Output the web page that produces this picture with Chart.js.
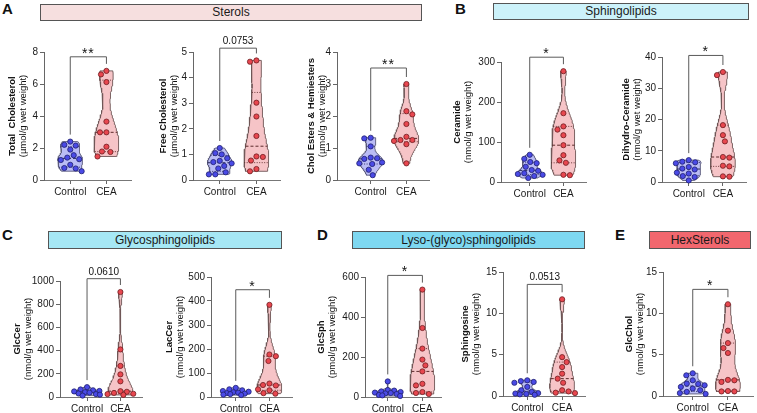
<!DOCTYPE html>
<html>
<head>
<meta charset="utf-8">
<script src="https://cdn.jsdelivr.net/npm/chart.js@4.4.1/dist/chart.umd.min.js"></script>
<style>
  body { margin: 0; background: #fff; width: 757px; height: 413px; overflow: hidden; position: relative;
         font-family: "Liberation Sans", Arial, sans-serif; }
  .hdr { position: absolute; border: 1px solid #555; box-sizing: border-box; text-align: center;
         font-size: 12px; color: #1a1a1a; }
  .lt { position: absolute; font-weight: bold; font-size: 15px; line-height: 15px; color: #111; }
  canvas { position: absolute; }
</style>
</head>
<body>
<div class="lt" style="left:2px;top:1px">A</div>
<div class="lt" style="left:455px;top:1px">B</div>
<div class="lt" style="left:2px;top:227px">C</div>
<div class="lt" style="left:317px;top:227px">D</div>
<div class="lt" style="left:615px;top:227px">E</div>
<div class="hdr" style="left:40px;top:4px;width:382px;height:17px;line-height:15px;background:#f6dfdf">Sterols</div>
<div class="hdr" style="left:493px;top:3px;width:256px;height:17px;line-height:15px;background:#ccf2fa">Sphingolipids</div>
<div class="hdr" style="left:48px;top:231px;width:234px;height:18px;line-height:16px;background:#a6e8f5">Glycosphingolipids</div>
<div class="hdr" style="left:352px;top:231px;width:233px;height:18px;line-height:16px;background:#7ed8f1">Lyso-(glyco)sphingolipids</div>
<div class="hdr" style="left:649px;top:231px;width:102px;height:18px;line-height:16px;background:#f2676e">HexSterols</div>

<script>
const groups = ['Control', 'CEA'];

// Sterols
const totalCholCtrl = [2.4, 2.2, 2.15, 1.9, 1.55, 1.4, 1.3, 1.25, 0.95, 0.75, 0.72, 0.55];
const totalCholCea  = [6.82, 6.6, 6.12, 3.65, 2.98, 2.98, 2.08, 1.78, 1.75, 1.47];
const freeCholCtrl  = [1.25, 1.05, 1.0, 0.85, 0.75, 0.7, 0.65, 0.55, 0.45, 0.3, 0.22, 0.22];
const freeCholCea   = [4.67, 4.62, 3.02, 2.48, 1.72, 0.92, 0.9, 0.76, 0.43, 0.34];
const cholEstCtrl   = [1.32, 1.3, 1.05, 0.7, 0.68, 0.66, 0.55, 0.52, 0.5, 0.32, 0.15];
const cholEstCea    = [3.0, 2.15, 2.05, 1.75, 1.35, 1.25, 1.25, 1.22, 1.12, 0.52];
// Sphingolipids
const ceramideCtrl   = [68, 58, 50, 47, 38, 30, 28, 22, 20, 18, 15, 10];
const ceramideCea    = [277, 172, 139, 131, 117, 92, 67, 54, 48, 18, 17];
const dhCeramideCtrl = [7.0, 6.5, 6.3, 6.0, 4.8, 4.3, 4.0, 3.0, 2.7, 1.9, 1.6, 0.5];
const dhCeramideCea  = [35.2, 34.2, 18.2, 15.0, 13.0, 8.0, 7.8, 5.2, 5.0, 1.8, 1.7];
// Glycosphingolipids
const glcCerCtrl = [85, 65, 58, 52, 48, 42, 38, 30, 25, 20, 12];
const glcCerCea  = [905, 410, 268, 195, 135, 50, 45, 35, 28, 25, 18];
const lacCerCtrl = [38, 32, 28, 25, 22, 20, 18, 16, 14, 12, 10, 8];
const lacCerCea  = [384, 177, 170, 150, 56, 50, 48, 32, 28, 16, 14];
// Lyso-(glyco)sphingolipids
const glcSphCtrl = [78, 35, 32, 28, 25, 22, 20, 18, 15, 10, 8, 5];
const glcSphCea  = [537, 345, 242, 187, 158, 128, 66, 58, 25, 20, 15];
const sphCtrl    = [1.9, 1.8, 1.7, 1.6, 1.1, 0.7, 0.5, 0.35, 0.3, 0.25, 0.2, 0.15];
const sphCea     = [11.7, 4.7, 4.1, 3.5, 2.7, 2.1, 1.6, 0.7, 0.55, 0.4, 0.35];
// HexSterols
const glcCholCtrl = [2.75, 2.5, 1.9, 1.5, 1.45, 1.3, 1.1, 0.9, 0.7, 0.5, 0.35, 0.25];
const glcCholCea  = [11.1, 7.9, 6.4, 5.8, 5.2, 1.95, 1.9, 1.7, 0.6, 0.55, 0.55];

// axis titles, ticks and significance (one entry per panel)
const titleMain = ['Total  Cholesterol', 'Free Cholesterol', 'Chol Esters & Hemiesters', 'Ceramide',
  'Dihydro-Ceramide', 'GlcCer', 'LacCer', 'GlcSph', 'Sphingosine', 'GlcChol'];
const titleUnit = ['(µmol/g wet weight)', '(µmol/g wet weight)', '(µmol/g wet weight)', '(nmol/g wet weight)',
  '(nmol/g wet weight)', '(nmol/g wet weight)', '(nmol/g wet weight)', '(pmol/g wet weight)',
  '(nmol/g wet weight)', '(nmol/g wet weight)'];
const yMaxes = [8, 5, 4, 300, 40, 1000, 500, 600, 15, 15];
const ySteps = [2, 1, 1, 100, 10, 200, 100, 200, 5, 5];
const sigLabels = ['**', '0.0753', '**', '*', '*', '0.0610', '*', '*', '0.0513', '*'];
const sigLevels = [7.7, 5.15, 3.5, 312, 40.5, 1020, 447, 608, 13.5, 12.9];
const seriesCtrl = [totalCholCtrl, freeCholCtrl, cholEstCtrl, ceramideCtrl, dhCeramideCtrl,
  glcCerCtrl, lacCerCtrl, glcSphCtrl, sphCtrl, glcCholCtrl];
const seriesCea = [totalCholCea, freeCholCea, cholEstCea, ceramideCea, dhCeramideCea,
  glcCerCea, lacCerCea, glcSphCea, sphCea, glcCholCea];

// page layout: y-axis x, Control x, CEA x, axis end x, top y, zero y, title offset
const layout = [
  [44, 70.5, 107, 132, 52, 180, 32],
  [193, 220, 257, 281, 52, 180, 30],
  [337, 371, 407, 430, 52, 180, 26],
  [501, 530, 564, 587, 62, 182, 44],
  [662, 689, 723.5, 747, 57, 182, 36],
  [60, 87.3, 121, 143, 281, 397, 43],
  [211, 236, 270, 293, 277, 397, 42],
  [365, 388, 423, 442, 277, 397, 44],
  [503, 527.5, 562.7, 586, 272, 396, 38],
  [663, 693, 728.5, 754, 272, 396, 34]
];

const FONT = '"Liberation Sans", Arial, sans-serif';
const PADL = 56, YW = 30, PADT = 32, XH = 22;
const colors = [
  { fill: '#babcf5', line: '#5b5b7a', dot: '#4a4ae6', dotEdge: '#20206e', med: '#2b2b5c' },
  { fill: '#f6c4c7', line: '#6e5656', dot: '#e8474f', dotEdge: '#6e1e22', med: '#5c2b2b' }
];

function quantile(s, p) {
  const n = s.length, pos = (n + 1) * p;
  if (pos <= 1) return s[0];
  if (pos >= n) return s[n - 1];
  const lo = Math.floor(pos);
  return s[lo - 1] + (pos - lo) * (s[lo] - s[lo - 1]);
}

function density(values) {
  const s = values.slice().sort((a, b) => a - b);
  const n = s.length;
  const mean = s.reduce((a, b) => a + b, 0) / n;
  const sd = Math.sqrt(s.reduce((a, b) => a + (b - mean) ** 2, 0) / (n - 1));
  const iqr = quantile(s, 0.75) - quantile(s, 0.25);
  const h = 0.8 * 0.9 * Math.min(sd, iqr > 0 ? iqr / 1.34 : sd) * Math.pow(n, -0.2);
  return y => s.reduce((a, v) => a + Math.exp(-0.5 * ((y - v) / h) ** 2), 0);
}

// simple beeswarm in pixel space, kept within +-maxOff px of the group centre
function swarm(values, pxPerY, d, maxOff) {
  const placed = [], offs = [];
  const idx = values.map((v, i) => i).sort((a, b) => values[b] - values[a]);
  idx.forEach((i, k) => {
    const py = values[i] * pxPerY;
    const cands = [0];
    for (let st = 0.5; st <= maxOff; st += 0.5) {
      if (k % 2) cands.push(-st, st); else cands.push(st, -st);
    }
    const minDist = cx => placed.reduce((m, q) => Math.min(m, Math.hypot(q.x - cx, q.y - py)), Infinity);
    let best = cands.find(cx => minDist(cx) >= d);
    if (best === undefined) {
      best = cands.reduce((b, cx) => (minDist(cx) > minDist(b) ? cx : b), 0);
    }
    placed.push({ x: best, y: py });
    offs[i] = best;
  });
  return offs;
}

function groupDatasets(values, center, col, unitPx, pxPerY) {
  const s = values.slice().sort((a, b) => a - b);
  const f = density(values);
  const lo = s[0], hi = s[s.length - 1];
  const K = 80, ys = [];
  for (let k = 0; k <= K; k++) ys.push(lo + (hi - lo) * k / K);
  const dMax = Math.max(...ys.map(f));
  const halfW = 12.5 / unitPx;
  const w = y => f(y) / dMax * halfW;

  const outline = ys.map(y => ({ x: center + w(y), y }));
  ys.slice().reverse().forEach(y => outline.push({ x: center - w(y), y }));
  outline.push(outline[0]);

  const sets = [{
    data: outline, showLine: true, fill: 'shape', backgroundColor: col.fill,
    borderColor: col.line, borderWidth: 0.9, pointRadius: 0, tension: 0, order: 3, clip: false
  }];
  [[0.5, [3, 2], 1], [0.25, [1, 1.5], 0.9], [0.75, [1, 1.5], 0.9]].forEach(([p, dash, lw]) => {
    const q = quantile(s, p);
    sets.push({
      data: [{ x: center - w(q), y: q }, { x: center + w(q), y: q }], showLine: true,
      borderColor: col.med, borderWidth: lw, borderDash: dash, pointRadius: 0, order: 2, clip: false
    });
  });
  const offs = swarm(values, pxPerY, 6.5, 13);
  sets.push({
    data: values.map((v, i) => ({ x: center + offs[i] / unitPx, y: v })),
    pointRadius: 2.6, borderWidth: 0.8, backgroundColor: col.dot, borderColor: col.dotEdge,
    order: 1, clip: false
  });
  return sets;
}

function decorPlugin(i, titleOff) {
  return {
    id: 'decor' + i,
    afterDraw(chart) {
      const { ctx, chartArea: a, scales: { x, y } } = chart;
      ctx.save();
      ctx.fillStyle = '#111';
      ctx.textAlign = 'center';
      ctx.textBaseline = 'middle';
      const mid = (a.top + a.bottom) / 2;
      [[titleMain[i], 'bold 9.5px ' + FONT, a.left - titleOff],
       [titleUnit[i], '9.5px ' + FONT, a.left - titleOff + 11]].forEach(([t, font, tx]) => {
        ctx.save();
        ctx.translate(tx, mid);
        ctx.rotate(-Math.PI / 2);
        ctx.font = font;
        ctx.fillText(t, 0, 0);
        ctx.restore();
      });

      // significance bracket
      const x0 = x.getPixelForValue(0), x1 = x.getPixelForValue(1);
      const yl = y.getPixelForValue(sigLevels[i]);
      const l0 = y.getPixelForValue(Math.max(...seriesCtrl[i])) - 7;
      const l1 = Math.max(y.getPixelForValue(Math.max(...seriesCea[i])) - 7, yl + 4);
      ctx.strokeStyle = '#5a5a5a';
      ctx.lineWidth = 1;
      ctx.beginPath();
      ctx.moveTo(x0, l0); ctx.lineTo(x0, yl); ctx.lineTo(x1, yl); ctx.lineTo(x1, l1);
      ctx.stroke();
      const lab = sigLabels[i];
      ctx.textBaseline = 'alphabetic';
      if (lab.startsWith('*')) {
        ctx.font = '14px ' + FONT;
        ctx.letterSpacing = '1px';
        ctx.fillText(lab, (x0 + x1) / 2, yl + 1);
      } else {
        ctx.font = '10px ' + FONT;
        ctx.fillText(lab, (x0 + x1) / 2, yl - 4);
      }
      ctx.restore();
    }
  };
}

layout.forEach((L, i) => {
  const [axX, cX, eX, endX, topY, zeroY, tOff] = L;
  const unitPx = eX - cX;
  const plotH = zeroY - topY;
  const pxPerY = plotH / yMaxes[i];
  const cv = document.createElement('canvas');
  const W = PADL + (endX - axX) + 4, H = PADT + plotH + XH;
  cv.width = W; cv.height = H;
  cv.style.left = (axX - PADL) + 'px';
  cv.style.top = (topY - PADT) + 'px';
  cv.style.width = W + 'px'; cv.style.height = H + 'px';
  document.body.appendChild(cv);

  const datasets = [
    ...groupDatasets(seriesCtrl[i], 0, colors[0], unitPx, pxPerY),
    ...groupDatasets(seriesCea[i], 1, colors[1], unitPx, pxPerY)
  ];

  new Chart(cv, {
    type: 'scatter',
    data: { datasets },
    options: {
      responsive: false,
      animation: false,
      layout: { padding: { left: PADL - YW, top: PADT, right: 4, bottom: 0 } },
      plugins: { legend: { display: false }, tooltip: { enabled: false } },
      scales: {
        x: {
          type: 'linear',
          min: -(cX - axX) / unitPx,
          max: 1 + (endX - eX) / unitPx,
          afterBuildTicks: s => { s.ticks = [{ value: 0 }, { value: 1 }]; },
          afterFit: s => { s.height = XH; },
          ticks: { callback: v => groups[v] ?? '', font: { size: 10, family: FONT }, color: '#1a1a1a',
                   padding: 2, maxRotation: 0, autoSkip: false },
          grid: { drawOnChartArea: false, drawTicks: true, tickLength: 4, color: '#666' },
          border: { color: '#777', dash: [2, 1.5], width: 1 }
        },
        y: {
          min: 0,
          max: yMaxes[i],
          afterFit: s => { s.width = YW; },
          ticks: { stepSize: ySteps[i], callback: v => String(v), font: { size: 10, family: FONT },
                   color: '#1a1a1a', padding: 2 },
          grid: { drawOnChartArea: false, drawTicks: true, tickLength: 4, color: '#666' },
          border: { color: '#666', width: 1 }
        }
      }
    },
    plugins: [decorPlugin(i, tOff)]
  });
});
</script>
</body>
</html>
